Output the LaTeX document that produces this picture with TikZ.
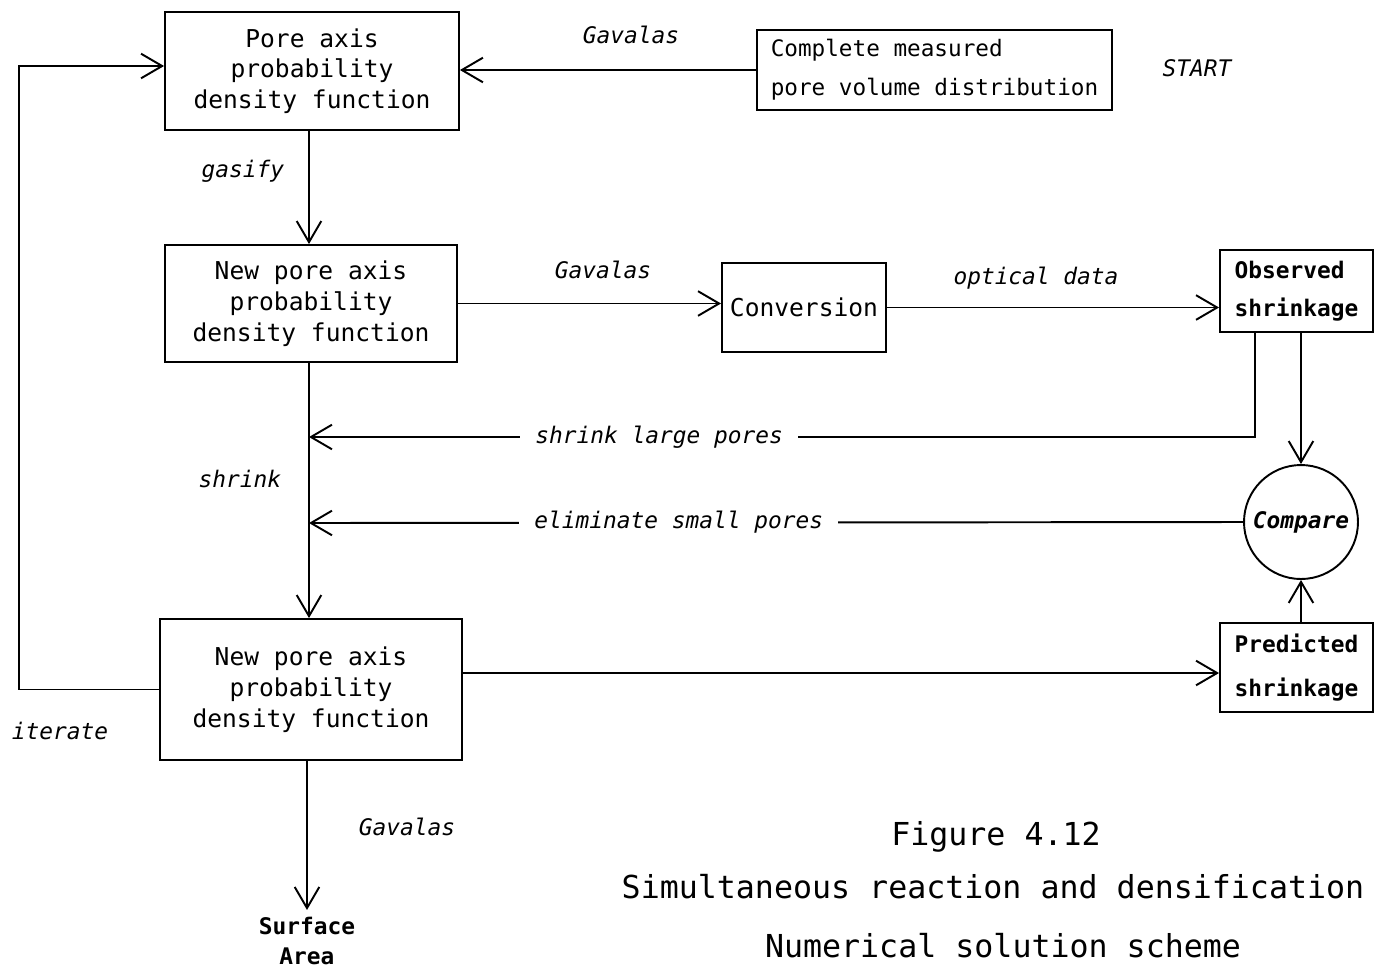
\documentclass[tikz,border=0pt]{standalone}
\usepackage{fontspec}
\setmainfont{DejaVu Sans Mono}
\usetikzlibrary{arrows.meta}

\begin{document}
\begin{tikzpicture}[x=0.02cm, y=-0.02cm, line width=1.1pt,
        every node/.style = {align=center},
        box/.style = {shape=rectangle, draw, inner sep=0pt,
        font=\fontsize{14}{17.5}\selectfont},
        lbl/.style = {font=\fontsize{13}{15}\selectfont\itshape},
        captxt/.style = {font=\fontsize{18}{20}\selectfont},
        flow/.style = {-{Straight Barb[length=12pt,width=14pt]}}]
	\useasboundingbox (0,0) rectangle (1374,975);
	\node[box, minimum width=5.88cm, minimum height=2.36cm] (pdf) at (312,71)
		{Pore axis\\probability\\density function};
	\node[box, minimum width=7.1cm, minimum height=1.6cm, align=left,
		font=\fontsize{12.9}{22}\selectfont] (meas) at (934.5,70)
		{Complete measured\\pore volume distribution};
	\node[box, minimum width=5.84cm, minimum height=2.34cm] (gas) at (311,303.5)
		{New pore axis\\probability\\density function};
	\node[box, minimum width=3.28cm, minimum height=1.78cm] (conv) at (804,307.5)
		{Conversion};
	\node[box, minimum width=3.06cm, minimum height=1.64cm, align=left,
		font=\fontsize{13}{21.5}\selectfont\bfseries] (obs) at (1296.5,291)
		{Observed\\shrinkage};
	\node[circle, draw, minimum size=2.28cm, inner sep=0pt,
		font=\fontsize{13}{15}\selectfont\bfseries\itshape] (cmp) at (1301,522)
		{Compare};
	\node[box, minimum width=3.06cm, minimum height=1.78cm, align=left,
		font=\fontsize{13}{25.5}\selectfont\bfseries] (pred) at (1296.5,667.5)
		{Predicted\\shrinkage};
	\node[box, minimum width=6.04cm, minimum height=2.82cm] (shr) at (311,689.5)
		{New pore axis\\probability\\density function};
	\node[font=\fontsize{13}{17.5}\selectfont\bfseries] (area) at (307,941)
		{Surface\\Area};
	\coordinate (big) at (309,437);
	\coordinate (small) at (309,523);
	\node[lbl] (start) at (1197,68) {START};
	\node[lbl] (gav1) at (631,35) {Gavalas};
	\node[lbl] (gasl) at (243,171) {gasify};
	\node[lbl] (gav2) at (603,270) {Gavalas};
	\node[lbl] (optl) at (1036,278) {optical data};
	\node[lbl] (shrl) at (240,479) {shrink};
	\node[lbl] (itl) at (60,731) {iterate};
	\node[lbl] (gav3) at (407,827) {Gavalas};
	\node[captxt] (fig) at (996,837) {Figure 4.12};
	\node[captxt] (title) at (993,887) {Simultaneous reaction and densification};
	\node[captxt] (sub) at (1003,946) {Numerical solution scheme};
	\draw[flow] (meas.west) -- (meas.west -| pdf.east);
	\draw[flow] (big |- pdf.south) -- (big |- gas.north);
	\draw[flow] (gas.east) -- (gas.east -| conv.west);
	\draw[flow] (conv.east) -- (conv.east -| obs.west);
	\draw[flow] (big |- gas.south) -- (big |- shr.north);
	\draw[flow] ([xshift=-0.83cm]obs.south) |- node[lbl, pos=0.815, fill=white,
		inner xsep=0.3cm] (bigl) {shrink large pores} (big);
	\draw[flow] (cmp.west) -- node[lbl, pos=0.604, fill=white,
		inner xsep=0.3cm] (smalll) {eliminate small pores} (small);
	\draw[flow] (cmp.north |- obs.south) -- (cmp.north);
	\draw[flow] (cmp.south |- pred.north) -- (cmp.south);
	\draw[flow] ([yshift=0.33cm]shr.east) -- ([yshift=0.33cm]shr.east -| pred.west);
	\draw[flow] (shr.west) -- ++(-140,0) |- ([yshift=0.1cm]pdf.west);
	\draw[flow] (area.north |- shr.south) -- (area.north);
\end{tikzpicture}
\end{document}
